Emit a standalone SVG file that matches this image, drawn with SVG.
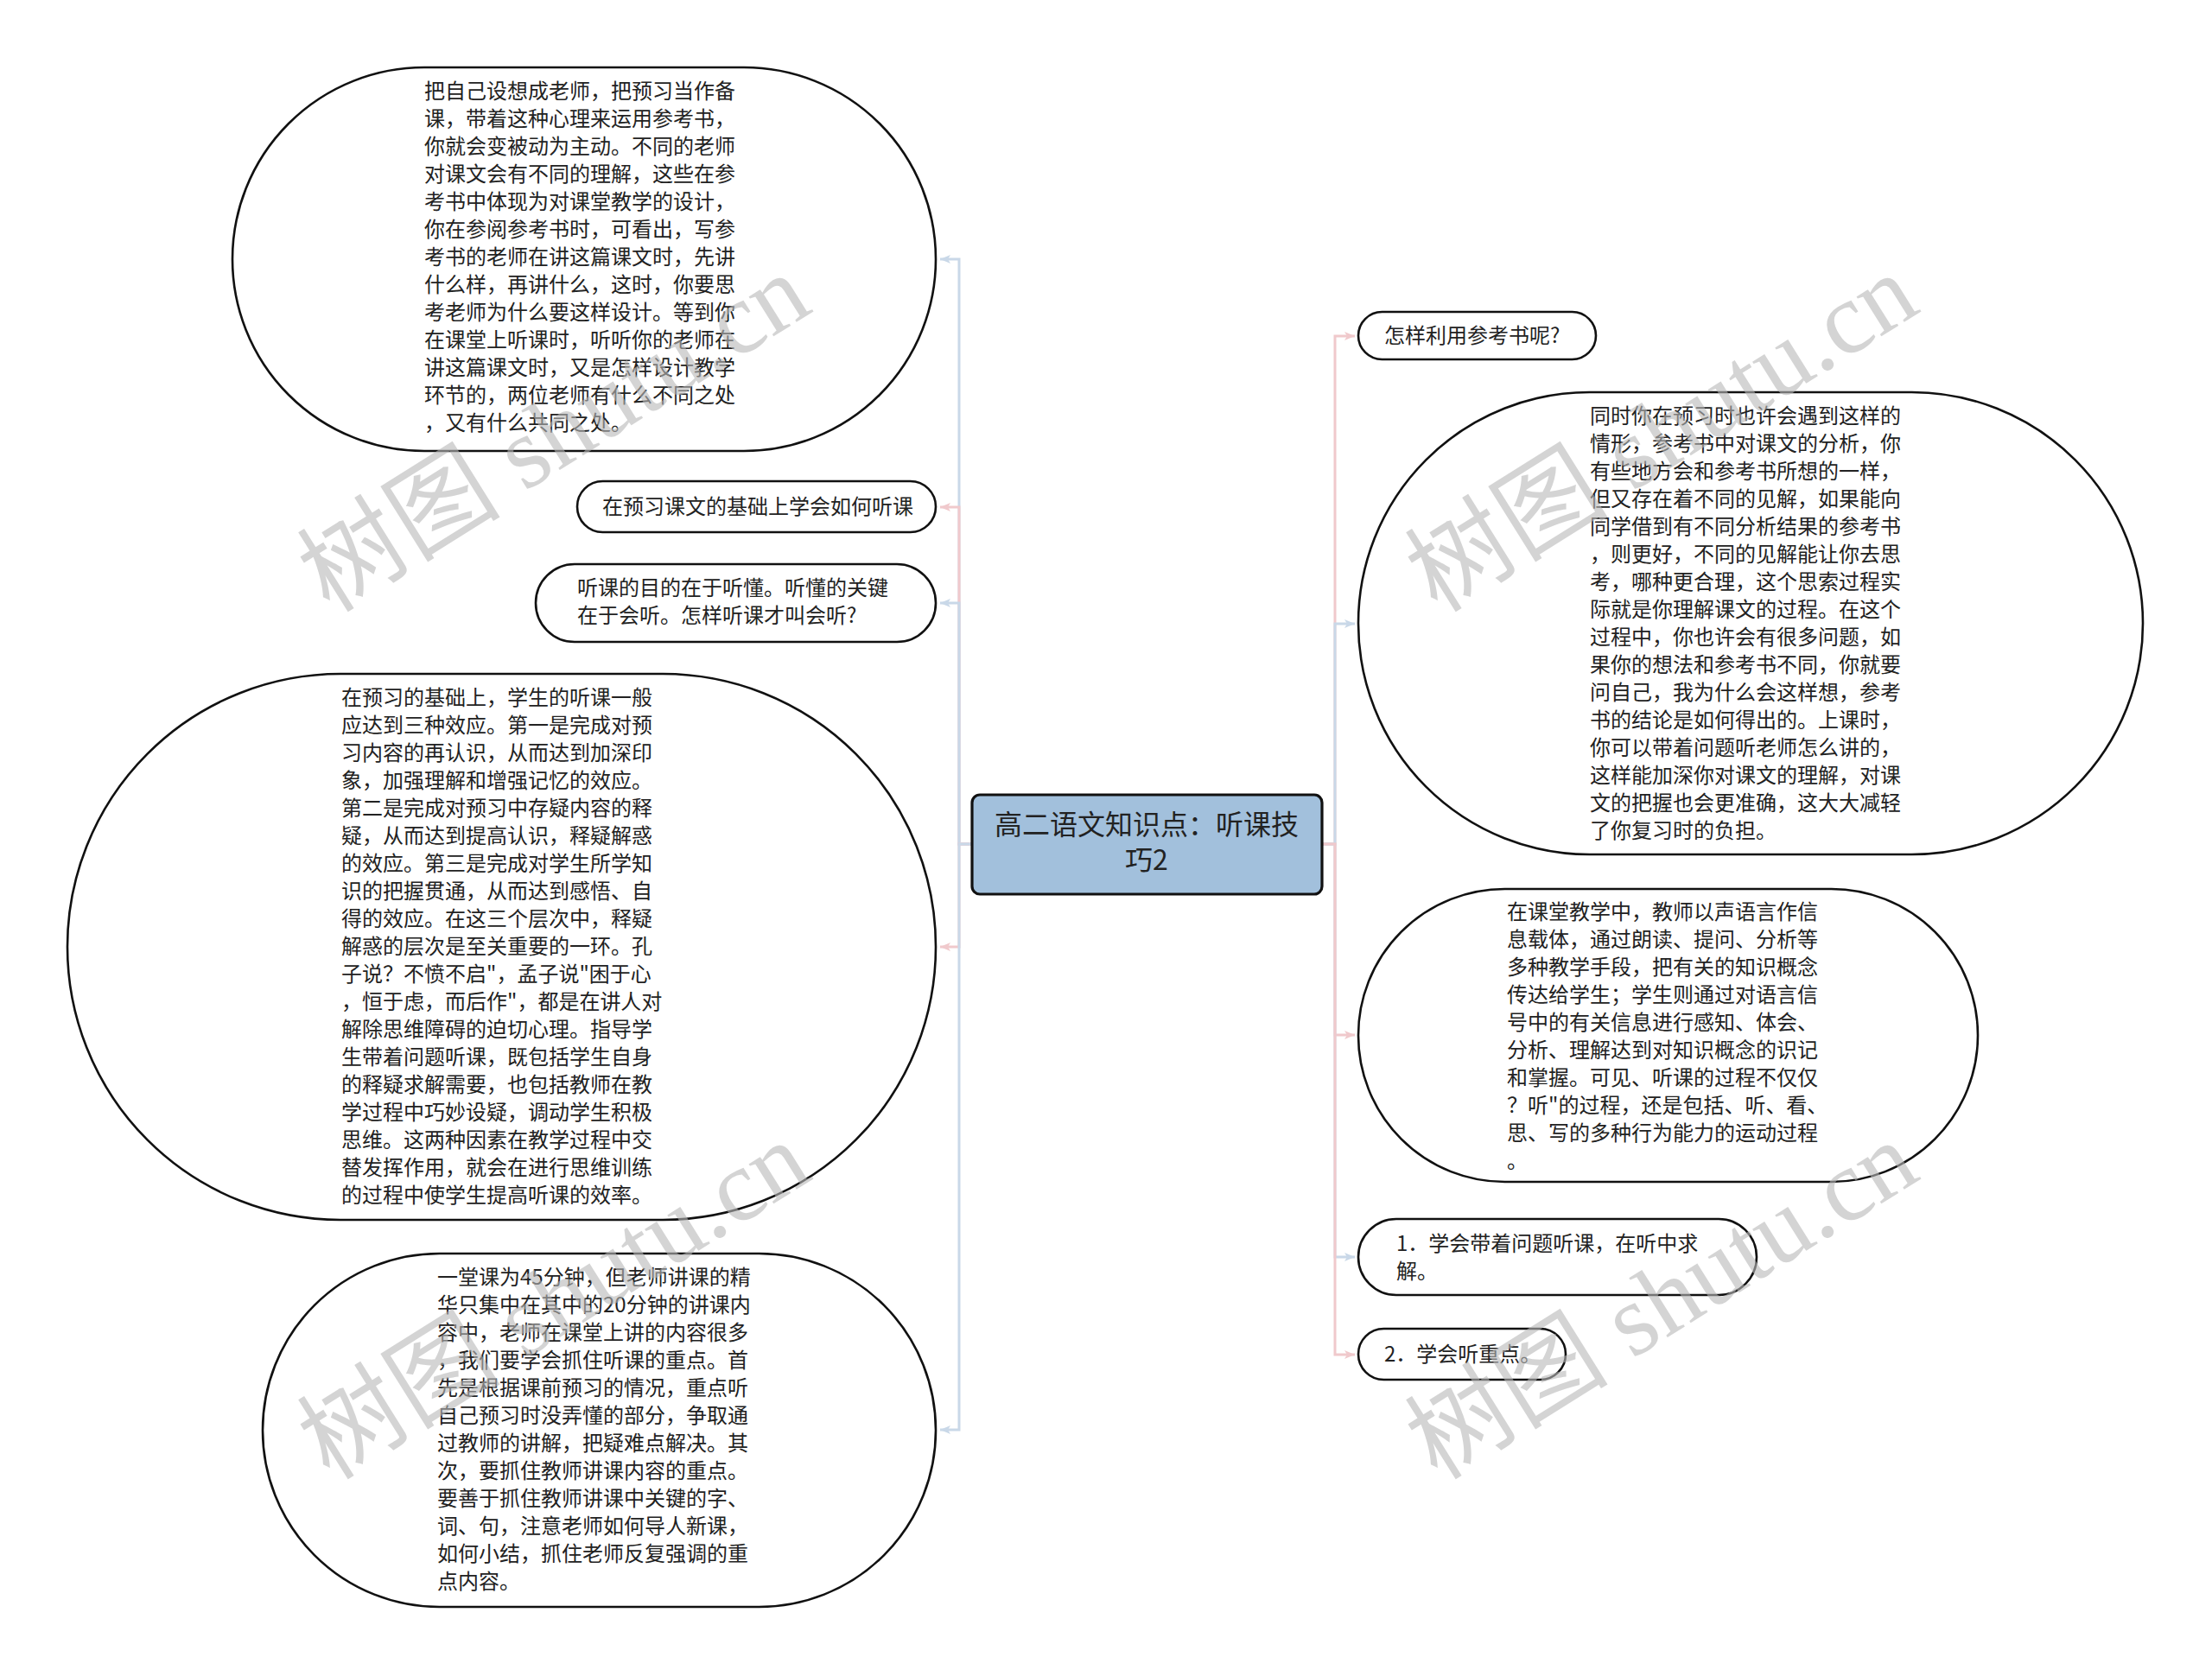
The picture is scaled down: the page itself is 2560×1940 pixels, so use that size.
<svg xmlns="http://www.w3.org/2000/svg" width="2560" height="1940" viewBox="0 0 2560 1940">
<style>
.node{fill:#fff;stroke:#111;stroke-width:2.6}
.root{fill:#a2c0dc;stroke:#111;stroke-width:3.2}
.t{font-family:"Noto Sans CJK SC","Liberation Sans",sans-serif;font-size:24px;fill:#222}
.rt{font-family:"Noto Sans CJK SC","Liberation Sans",sans-serif;font-size:32px;fill:#222;text-anchor:middle}
.cb{fill:none;stroke:#c9d8e8;stroke-width:3}
.cp{fill:none;stroke:#f0c9cc;stroke-width:3}
.wm{font-family:"Liberation Serif","Noto Sans CJK SC",serif;font-size:118px;fill:#b8b8b8;opacity:0.6}
</style>
<defs>
<marker id="ab" markerUnits="userSpaceOnUse" markerWidth="14" markerHeight="12" refX="12" refY="6" orient="auto"><path d="M0,1 L12,6 L0,11 L3,6 z" fill="#c9d8e8"/></marker>
<marker id="ap" markerUnits="userSpaceOnUse" markerWidth="14" markerHeight="12" refX="12" refY="6" orient="auto"><path d="M0,1 L12,6 L0,11 L3,6 z" fill="#f0c9cc"/></marker>
</defs>
<rect width="2560" height="1940" fill="#fff"/>
<g id="connectors">
<path class="cb" marker-end="url(#ab)" d="M1125,977 H1110 V300 H1088"/>
<path class="cp" marker-end="url(#ap)" d="M1125,977 H1110 V587 H1088"/>
<path class="cb" marker-end="url(#ab)" d="M1125,977 H1110 V698 H1088"/>
<path class="cp" marker-end="url(#ap)" d="M1125,977 H1110 V1096 H1088"/>
<path class="cb" marker-end="url(#ab)" d="M1125,977 H1110 V1655 H1088"/>
<path class="cp" marker-end="url(#ap)" d="M1530,977 H1545 V389 H1568"/>
<path class="cb" marker-end="url(#ab)" d="M1530,977 H1545 V722 H1568"/>
<path class="cp" marker-end="url(#ap)" d="M1530,977 H1545 V1198 H1568"/>
<path class="cb" marker-end="url(#ab)" d="M1530,977 H1545 V1455 H1568"/>
<path class="cp" marker-end="url(#ap)" d="M1530,977 H1545 V1568 H1568"/>
</g>
<g id="root">
<rect class="root" x="1125" y="920" width="405" height="115" rx="9"/>
<text class="rt" x="1327" y="966">高二语文知识点：听课技</text>
<text class="rt" x="1327" y="1007">巧2</text>
</g>
<g id="n1">
<rect class="node" x="269" y="78" width="814" height="444" rx="222" ry="222"/>
<text class="t" x="491" y="114">把自己设想成老师，把预习当作备<tspan x="491" dy="32">课，带着这种心理来运用参考书，</tspan><tspan x="491" dy="32">你就会变被动为主动。不同的老师</tspan><tspan x="491" dy="32">对课文会有不同的理解，这些在参</tspan><tspan x="491" dy="32">考书中体现为对课堂教学的设计，</tspan><tspan x="491" dy="32">你在参阅参考书时，可看出，写参</tspan><tspan x="491" dy="32">考书的老师在讲这篇课文时，先讲</tspan><tspan x="491" dy="32">什么样，再讲什么，这时，你要思</tspan><tspan x="491" dy="32">考老师为什么要这样设计。等到你</tspan><tspan x="491" dy="32">在课堂上听课时，听听你的老师在</tspan><tspan x="491" dy="32">讲这篇课文时，又是怎样设计教学</tspan><tspan x="491" dy="32">环节的，两位老师有什么不同之处</tspan><tspan x="491" dy="32">，又有什么共同之处。</tspan></text>
</g>
<g id="n2">
<rect class="node" x="668" y="557" width="415" height="59" rx="29.5"/>
<text class="t" x="697" y="595">在预习课文的基础上学会如何听课</text>
</g>
<g id="n3">
<rect class="node" x="620" y="653" width="463" height="90" rx="45"/>
<text class="t" x="668" y="689">听课的目的在于听懂。听懂的关键<tspan x="668" dy="32">在于会听。怎样听课才叫会听?</tspan></text>
</g>
<g id="n4">
<rect class="node" x="78" y="780" width="1005" height="632" rx="316"/>
<text class="t" x="395" y="816">在预习的基础上，学生的听课一般<tspan x="395" dy="32">应达到三种效应。第一是完成对预</tspan><tspan x="395" dy="32">习内容的再认识，从而达到加深印</tspan><tspan x="395" dy="32">象，加强理解和增强记忆的效应。</tspan><tspan x="395" dy="32">第二是完成对预习中存疑内容的释</tspan><tspan x="395" dy="32">疑，从而达到提高认识，释疑解惑</tspan><tspan x="395" dy="32">的效应。第三是完成对学生所学知</tspan><tspan x="395" dy="32">识的把握贯通，从而达到感悟、自</tspan><tspan x="395" dy="32">得的效应。在这三个层次中，释疑</tspan><tspan x="395" dy="32">解惑的层次是至关重要的一环。孔</tspan><tspan x="395" dy="32">子说？不愤不启"，孟子说"困于心</tspan><tspan x="395" dy="32">，恒于虑，而后作"，都是在讲人对</tspan><tspan x="395" dy="32">解除思维障碍的迫切心理。指导学</tspan><tspan x="395" dy="32">生带着问题听课，既包括学生自身</tspan><tspan x="395" dy="32">的释疑求解需要，也包括教师在教</tspan><tspan x="395" dy="32">学过程中巧妙设疑，调动学生积极</tspan><tspan x="395" dy="32">思维。这两种因素在教学过程中交</tspan><tspan x="395" dy="32">替发挥作用，就会在进行思维训练</tspan><tspan x="395" dy="32">的过程中使学生提高听课的效率。</tspan></text>
</g>
<g id="n5">
<rect class="node" x="304" y="1451" width="779" height="409" rx="204.5"/>
<text class="t" x="506" y="1487">一堂课为45分钟，但老师讲课的精<tspan x="506" dy="32">华只集中在其中的20分钟的讲课内</tspan><tspan x="506" dy="32">容中，老师在课堂上讲的内容很多</tspan><tspan x="506" dy="32">，我们要学会抓住听课的重点。首</tspan><tspan x="506" dy="32">先是根据课前预习的情况，重点听</tspan><tspan x="506" dy="32">自己预习时没弄懂的部分，争取通</tspan><tspan x="506" dy="32">过教师的讲解，把疑难点解决。其</tspan><tspan x="506" dy="32">次，要抓住教师讲课内容的重点。</tspan><tspan x="506" dy="32">要善于抓住教师讲课中关键的字、</tspan><tspan x="506" dy="32">词、句，注意老师如何导人新课，</tspan><tspan x="506" dy="32">如何小结，抓住老师反复强调的重</tspan><tspan x="506" dy="32">点内容。</tspan></text>
</g>
<g id="n6">
<rect class="node" x="1572" y="361" width="275" height="55" rx="27.5"/>
<text class="t" x="1602" y="397">怎样利用参考书呢?</text>
</g>
<g id="n7">
<rect class="node" x="1572" y="454" width="908" height="535" rx="267.5"/>
<text class="t" x="1840" y="490">同时你在预习时也许会遇到这样的<tspan x="1840" dy="32">情形，参考书中对课文的分析，你</tspan><tspan x="1840" dy="32">有些地方会和参考书所想的一样，</tspan><tspan x="1840" dy="32">但又存在着不同的见解，如果能向</tspan><tspan x="1840" dy="32">同学借到有不同分析结果的参考书</tspan><tspan x="1840" dy="32">，则更好，不同的见解能让你去思</tspan><tspan x="1840" dy="32">考，哪种更合理，这个思索过程实</tspan><tspan x="1840" dy="32">际就是你理解课文的过程。在这个</tspan><tspan x="1840" dy="32">过程中，你也许会有很多问题，如</tspan><tspan x="1840" dy="32">果你的想法和参考书不同，你就要</tspan><tspan x="1840" dy="32">问自己，我为什么会这样想，参考</tspan><tspan x="1840" dy="32">书的结论是如何得出的。上课时，</tspan><tspan x="1840" dy="32">你可以带着问题听老师怎么讲的，</tspan><tspan x="1840" dy="32">这样能加深你对课文的理解，对课</tspan><tspan x="1840" dy="32">文的把握也会更准确，这大大减轻</tspan><tspan x="1840" dy="32">了你复习时的负担。</tspan></text>
</g>
<g id="n8">
<rect class="node" x="1572" y="1029" width="717" height="339" rx="169.5"/>
<text class="t" x="1744" y="1064">在课堂教学中，教师以声语言作信<tspan x="1744" dy="32">息载体，通过朗读、提问、分析等</tspan><tspan x="1744" dy="32">多种教学手段，把有关的知识概念</tspan><tspan x="1744" dy="32">传达给学生；学生则通过对语言信</tspan><tspan x="1744" dy="32">号中的有关信息进行感知、体会、</tspan><tspan x="1744" dy="32">分析、理解达到对知识概念的识记</tspan><tspan x="1744" dy="32">和掌握。可见、听课的过程不仅仅</tspan><tspan x="1744" dy="32">？听"的过程，还是包括、听、看、</tspan><tspan x="1744" dy="32">思、写的多种行为能力的运动过程</tspan><tspan x="1744" dy="32">。</tspan></text>
</g>
<g id="n9">
<rect class="node" x="1572" y="1411" width="461" height="88" rx="44"/>
<text class="t" x="1616" y="1448">1．学会带着问题听课，在听中求<tspan x="1616" dy="32">解。</tspan></text>
</g>
<g id="n10">
<rect class="node" x="1572" y="1538" width="240" height="59" rx="29.5"/>
<text class="t" x="1602" y="1576">2．学会听重点。</text>
</g>
<g id="watermarks">
<text class="wm" transform="translate(648,512) rotate(-32)" text-anchor="middle" dominant-baseline="middle">树图 shutu.cn</text>
<text class="wm" transform="translate(1930,512) rotate(-32)" text-anchor="middle" dominant-baseline="middle">树图 shutu.cn</text>
<text class="wm" transform="translate(648,1516) rotate(-32)" text-anchor="middle" dominant-baseline="middle">树图 shutu.cn</text>
<text class="wm" transform="translate(1930,1516) rotate(-32)" text-anchor="middle" dominant-baseline="middle">树图 shutu.cn</text>
</g>
</svg>
